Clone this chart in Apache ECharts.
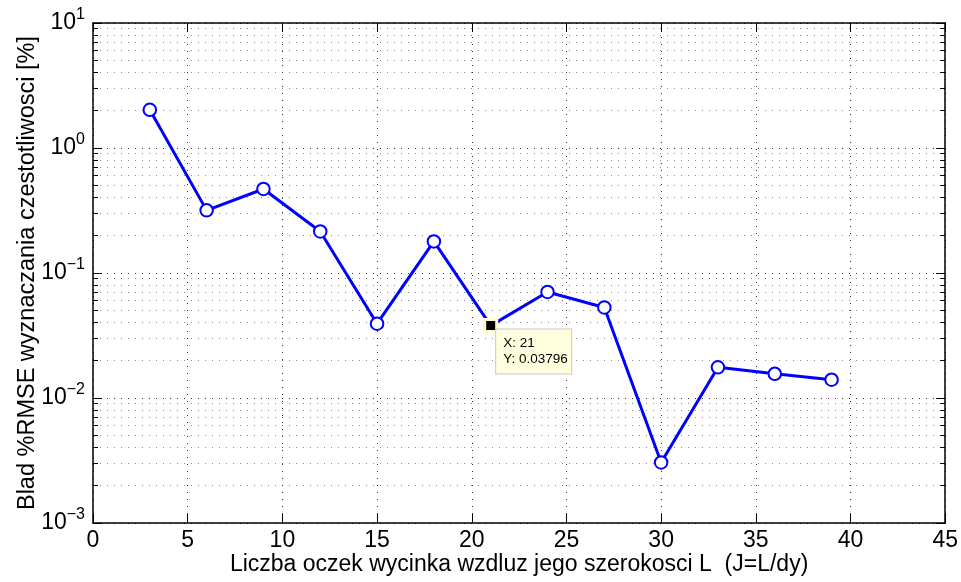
<!DOCTYPE html>
<html>
<head>
<meta charset="utf-8">
<script src="https://cdn.jsdelivr.net/npm/echarts@6/dist/echarts.min.js"></script>
<style>
  html, body { margin: 0; padding: 0; background: #fff; }
  #chart { width: 961px; height: 582px; }
</style>
</head>
<body>
<div id="chart"></div>
<script>
// Grid size L (number of cells across the strip width)
const cellCounts = [3, 6, 9, 12, 15, 18, 21, 24, 27, 30, 33, 36, 39];
// %RMSE error of the frequency estimate
const rmseError = [2.02, 0.317, 0.47, 0.215, 0.0393, 0.179, 0.03796, 0.0705, 0.053, 0.00305, 0.0176, 0.0156, 0.014];
// Highlighted data tip
const tipPoint = [21, 0.03796];

const xTicks = [0, 5, 10, 15, 20, 25, 30, 35, 40, 45];
const yDecades = [0.001, 0.01, 0.1, 1, 10];

const FONT = '"Liberation Sans", Arial, Helvetica, sans-serif';
const AXIS_COLOR = '#000';

function decadeLabel(v) {
  const e = Math.round(Math.log10(v));
  const exp = e < 0 ? '\u2212' + (-e) : String(e);
  return '{b|10}{e|' + exp + '}';
}

const gridDots = { color: '#333', width: 1, type: [1, 6] };
const minorDots = { color: '#8a8a8a', width: 1, type: [1, 6] };

const chart = echarts.init(document.getElementById('chart'), null, { renderer: 'canvas' });

const commonX = {
  type: 'value', min: xTicks[0], max: xTicks[xTicks.length - 1], interval: 5
};
const commonY = {
  type: 'log', logBase: 10, min: yDecades[0], max: yDecades[yDecades.length - 1]
};

chart.setOption({
  animation: false,
  backgroundColor: '#fff',
  textStyle: { fontFamily: FONT },
  grid: { left: 93, right: 15, top: 23, bottom: 59, containLabel: false },
  xAxis: [
    Object.assign({}, commonX, {
      position: 'bottom',
      name: 'Liczba oczek wycinka wzdluz jego szerokosci L  (J=L/dy)',
      nameLocation: 'middle',
      nameGap: 30,
      nameMoveOverlap: false,
      nameTextStyle: { fontFamily: FONT, fontSize: 23, color: '#000' },
      axisLine: { show: true, onZero: false, lineStyle: { color: AXIS_COLOR, width: 1.5 } },
      axisTick: { show: true, inside: true, length: 9, lineStyle: { color: AXIS_COLOR } },
      axisLabel: { fontFamily: FONT, fontSize: 23, color: '#000', margin: 6 },
      splitLine: { show: true, lineStyle: gridDots }
    }),
    Object.assign({}, commonX, {
      position: 'top',
      axisLine: { show: true, onZero: false, lineStyle: { color: AXIS_COLOR, width: 1.5 } },
      axisTick: { show: true, inside: true, length: 9, lineStyle: { color: AXIS_COLOR } },
      axisLabel: { show: false },
      splitLine: { show: false }
    })
  ],
  yAxis: [
    Object.assign({}, commonY, {
      position: 'left',
      name: 'Blad %RMSE wyznaczania czestotliwosci [%]',
      nameLocation: 'middle',
      nameGap: 53,
      nameMoveOverlap: false,
      nameTextStyle: { fontFamily: FONT, fontSize: 23.5, color: '#000' },
      axisLine: { show: true, onZero: false, lineStyle: { color: AXIS_COLOR, width: 1.5 } },
      axisTick: { show: true, inside: true, length: 9, lineStyle: { color: AXIS_COLOR } },
      minorTick: { show: true, splitNumber: 9, length: 5, lineStyle: { color: AXIS_COLOR } },
      axisLabel: {
        margin: 8,
        formatter: decadeLabel,
        rich: {
          b: { fontFamily: FONT, fontSize: 23, color: '#000' },
          e: { fontFamily: FONT, fontSize: 16, color: '#000', padding: [0, 0, 16, 0] }
        }
      },
      splitLine: { show: true, lineStyle: gridDots },
      minorSplitLine: { show: true, lineStyle: minorDots }
    }),
    Object.assign({}, commonY, {
      position: 'right',
      axisLine: { show: true, onZero: false, lineStyle: { color: AXIS_COLOR, width: 1.5 } },
      axisTick: { show: true, inside: true, length: 9, lineStyle: { color: AXIS_COLOR } },
      minorTick: { show: true, splitNumber: 9, length: 5, lineStyle: { color: AXIS_COLOR } },
      axisLabel: { show: false },
      splitLine: { show: false }
    })
  ],
  series: [
    {
      name: 'RMSE',
      type: 'line',
      xAxisIndex: 0,
      yAxisIndex: 0,
      data: cellCounts.map((x, i) => [x, rmseError[i]]),
      symbol: 'emptyCircle',
      symbolSize: 12.5,
      lineStyle: { color: '#0000ff', width: 3 },
      itemStyle: { color: '#0000ff', borderColor: '#0000ff', borderWidth: 3 },
      z: 3
    },
    {
      name: 'tip',
      type: 'scatter',
      xAxisIndex: 0,
      yAxisIndex: 0,
      data: [tipPoint],
      symbol: 'rect',
      symbolSize: 12,
      itemStyle: { color: '#000', borderColor: '#ffffd0', borderWidth: 3, opacity: 1 },
      z: 5,
      label: {
        show: true,
        position: [13, 11.5],
        formatter: p => 'X: ' + p.value[0] + '\nY: ' + p.value[1],
        fontFamily: FONT,
        fontSize: 13.5,
        lineHeight: 16,
        color: '#000',
        backgroundColor: '#ffffe0',
        borderColor: '#c9c9bc',
        borderWidth: 1,
        padding: [6, 8, 6, 7],
        width: 60,
        align: 'left',
        verticalAlign: 'top'
      }
    }
  ]
});
</script>
</body>
</html>
